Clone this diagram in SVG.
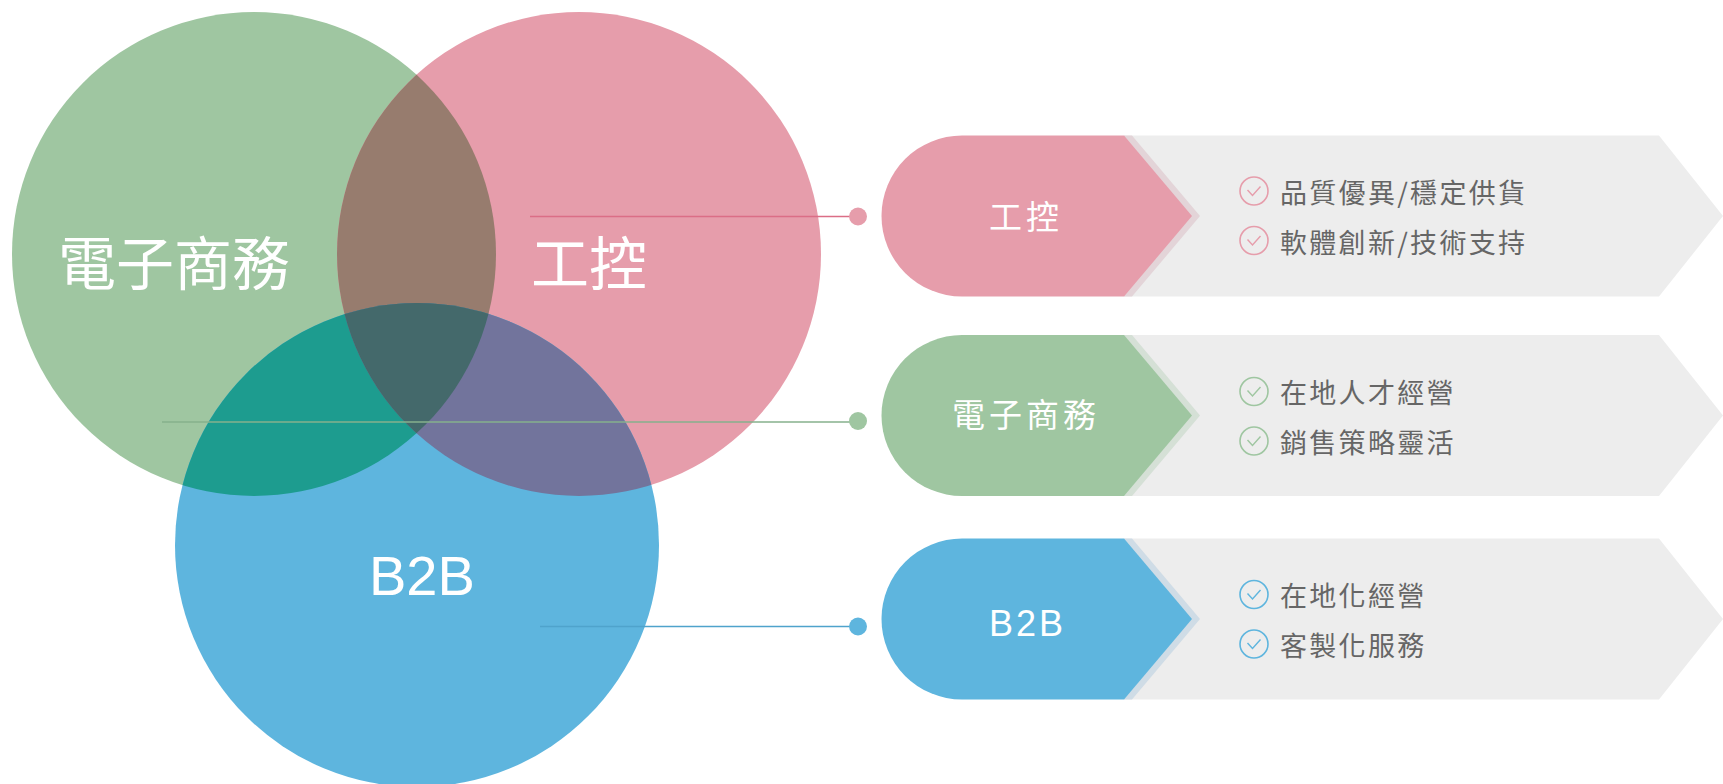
<svg xmlns="http://www.w3.org/2000/svg" xmlns:xlink="http://www.w3.org/1999/xlink" width="1723" height="784" viewBox="0 0 1723 784">
<style>
.big{font-family:"Noto Sans CJK TC","Liberation Sans",sans-serif;font-size:58px;font-weight:400;fill:#fff}
.latin{font-family:"Liberation Sans",sans-serif;fill:#fff}
.head{font-family:"Noto Sans CJK TC","Liberation Sans",sans-serif;font-size:33px;font-weight:400;fill:#fff;letter-spacing:4px;text-anchor:middle}
.item{font-family:"Noto Sans CJK TC","Liberation Sans",sans-serif;font-size:27px;font-weight:400;fill:#666;letter-spacing:2.3px}
.chk{fill:none;stroke-width:1.6}
.mark{fill:none;stroke-width:1.4}
.link{stroke-width:1.6;fill:none}
.pinkS{stroke:#E69DAB}.greenS{stroke:#9FC6A1}.blueS{stroke:#5EB5DE}
</style>
<defs>
<clipPath id="cg"><circle cx="254" cy="254" r="242"/></clipPath>
<clipPath id="cp"><circle cx="579" cy="254" r="242"/></clipPath>
<clipPath id="cb"><circle cx="417" cy="545" r="242"/></clipPath>
<path id="grey" d="M1124,0H1659L1723,80.5L1659,161H1124Z" fill="#EDEDED"/>
<path id="pill" d="M962,0H1124L1192,80.5L1124,161H962A80.5,80.5 0 0 1 962,0Z"/>
<path id="shadow" d="M1124,0H1132L1200,80.5L1132,161H1124Z"/>
<g id="check"><circle class="chk" cx="0" cy="0" r="14"/><path class="mark" d="M-6.5,-1L-1.5,4.5L6.5,-4.5"/></g>
</defs>

<g id="venn-ecommerce"><circle cx="254" cy="254" r="242" fill="#9FC6A1"/></g>
<g id="venn-industrial"><circle cx="579" cy="254" r="242" fill="#E69DAB"/></g>
<g id="venn-b2b"><circle cx="417" cy="545" r="242" fill="#5EB5DE"/></g>
<g id="venn-overlaps">
<circle cx="579" cy="254" r="242" fill="#977C6E" clip-path="url(#cg)"/>
<circle cx="417" cy="545" r="242" fill="#1D9C8F" clip-path="url(#cg)"/>
<circle cx="417" cy="545" r="242" fill="#72749C" clip-path="url(#cp)"/>
<g clip-path="url(#cg)"><circle cx="579" cy="254" r="242" fill="#44696B" clip-path="url(#cb)"/></g>
</g>

<g id="connectors">
<line class="link" x1="530" y1="216.5" x2="858" y2="216.5" stroke="#DB6E86"/>
<line class="link" x1="162" y1="422" x2="858" y2="422" stroke="#86B08C"/>
<line class="link" x1="540" y1="626.5" x2="858" y2="626.5" stroke="#4FA3CC"/>
</g>

<g id="venn-labels">
<text class="big" x="58" y="285">電子商務</text>
<text class="big" x="531" y="285">工控</text>
<text class="latin" x="369" y="595" font-size="56">B2B</text>
</g>

<g id="row-industrial">
<circle cx="858" cy="216.5" r="9" fill="#E69DAB"/>
<use href="#grey" y="135.5"/>
<use href="#shadow" y="135.5" fill="#E3D4D8"/>
<use href="#pill" y="135.5" fill="#E69DAB"/>
<text class="head" x="1026" y="229">工控</text>
<use href="#check" x="1254" y="191" class="pinkS"/>
<text class="item" x="1280" y="203">品質優異/穩定供貨</text>
<use href="#check" x="1254" y="240.5" class="pinkS"/>
<text class="item" x="1280" y="253">軟體創新/技術支持</text>
</g>

<g id="row-ecommerce">
<circle cx="858" cy="421" r="9" fill="#9FC6A1"/>
<use href="#grey" y="335"/>
<use href="#shadow" y="335" fill="#D5E0D6"/>
<use href="#pill" y="335" fill="#9FC6A1"/>
<text class="head" x="1026" y="427">電子商務</text>
<use href="#check" x="1254" y="391.5" class="greenS"/>
<text class="item" x="1280" y="403">在地人才經營</text>
<use href="#check" x="1254" y="441" class="greenS"/>
<text class="item" x="1280" y="453">銷售策略靈活</text>
</g>

<g id="row-b2b">
<circle cx="858" cy="626.5" r="9" fill="#5EB5DE"/>
<use href="#grey" y="538.5"/>
<use href="#shadow" y="538.5" fill="#CFDCE6"/>
<use href="#pill" y="538.5" fill="#5EB5DE"/>
<text class="latin" x="989" y="636" font-size="36" letter-spacing="3">B2B</text>
<use href="#check" x="1254" y="594.5" class="blueS"/>
<text class="item" x="1280" y="606">在地化經營</text>
<use href="#check" x="1254" y="644" class="blueS"/>
<text class="item" x="1280" y="656">客製化服務</text>
</g>
</svg>
